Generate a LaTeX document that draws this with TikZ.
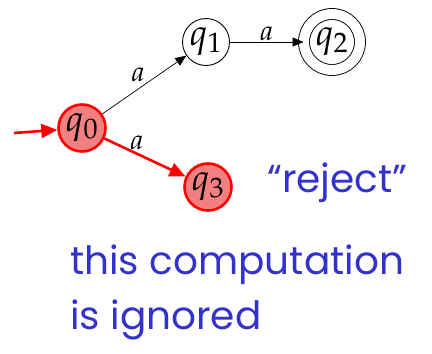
\documentclass[tikz,border=0pt]{standalone}
\usepackage{mathpazo}
\usepackage{fontspec}
\usepackage{xcolor}
\usetikzlibrary{arrows.meta,positioning}
\newfontfamily\notefont{Poppins}
\definecolor{noteblue}{RGB}{51,51,204}
\definecolor{pathred}{RGB}{255,0,0}
\definecolor{pathfill}{RGB}{242,128,128}

\begin{document}
\begin{tikzpicture}[
  x=1pt, y=-1pt, node distance=0pt and 0pt, on grid,
  state/.style={draw, circle, line width=0.9pt, minimum size=47pt,
                inner sep=0pt, font=\fontsize{37}{40}\selectfont},
  active/.style={state, draw=pathred, fill=pathfill, line width=2.6pt, minimum size=47pt},
  accept/.style={state, double, double distance=10pt, minimum size=56pt},
  note/.style={text=noteblue, font=\notefont\fontsize{39}{44}\selectfont, inner sep=0pt},
  sym/.style={font=\fontsize{28}{30}\selectfont, inner sep=1pt},
  arrow/.style={-{Triangle[length=11pt, width=9pt]}, line width=0.7pt},
  redarrow/.style={-{Triangle[length=16pt, width=14pt]}, line width=2.6pt, draw=pathred}
]
\useasboundingbox (0,0) rectangle (432,354);

\node[active] (q0) at (82,128) {$q_0$};
\node[state, above right=86pt and 124pt of q0] (q1) {$q_1$};
\node[accept, right=126pt of q1] (q2) {$q_2$};
\node[active, below right=59pt and 126pt of q0] (q3) {$q_3$};
\coordinate (start) at (14,133);

\draw[redarrow] (start) -- (q0);
\draw[arrow] (q0) -- node[sym, above left, pos=0.5, xshift=2pt, yshift=2pt] {$a$} (q1);
\draw[arrow] (q1) -- node[sym, above] {$a$} (q2);
\draw[redarrow] (q0) -- node[sym, above, pos=0.4, yshift=2pt] {$a$} (q3);

\node[note, anchor=west] (reject) at (267,183) {“reject”};
\node[note, anchor=west] (line1) at (70,265) {this computation};
\node[note, anchor=west] (line2) at (70,320) {is ignored};
\end{tikzpicture}
\end{document}
